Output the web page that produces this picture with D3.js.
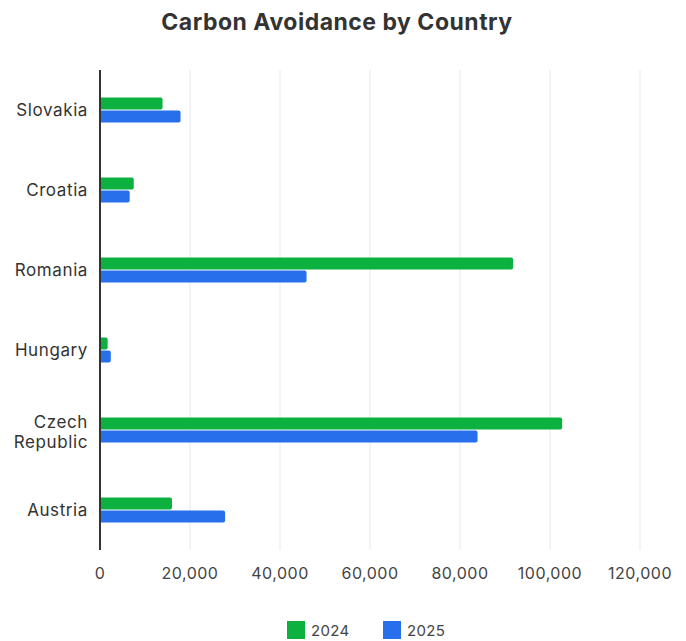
<!DOCTYPE html>
<html lang="en">
<head>
  <meta charset="UTF-8">
  <title>Carbon Avoidance by Country</title>
  <script src="https://d3js.org/d3.v7.min.js"></script>
  <style>
    body {
      margin: 0;
      background: #fff;
      font-family: Inter, 'Noto Sans', sans-serif;
    }
    svg { display: block; }
    .title { font-size: 23px; font-weight: 700; fill: #333; text-anchor: middle; letter-spacing: 0.5px; }
    .tick-label { font-size: 16px; fill: #444; letter-spacing: 0.5px; }
    .cat-label { font-size: 17px; fill: #333; letter-spacing: 0.6px; }
    .legend-text { font-size: 15px; fill: #444; letter-spacing: 0.3px; }
  </style>
</head>
<body>
<svg id="chart" width="686" height="641"></svg>
<script>
  const countries = ["Slovakia", "Croatia", "Romania", "Hungary", "Czech Republic", "Austria"];
  const seriesNames = ["2024", "2025"];
  const values2024 = [13900, 7500, 91800, 1700, 102700, 16000];
  const values2025 = [17900, 6600, 45900, 2400, 83900, 27800];
  const xTicks = [0, 20000, 40000, 60000, 80000, 100000, 120000];
  const colors = ["#0db140", "#2870eb"];

  const svg = d3.select("#chart");
  const margin = { left: 100, right: 46, top: 70, bottom: 91 };
  const width = 686, height = 641;

  const x = d3.scaleLinear().domain([0, 120000]).range([margin.left, width - margin.right]);
  const y = d3.scaleBand().domain(countries).range([margin.top, height - margin.bottom]);
  const inner = d3.scaleBand().domain(seriesNames).range([y.bandwidth() / 2 - 13, y.bandwidth() / 2 + 13]);

  svg.append("text").attr("class", "title").attr("x", 337).attr("y", 30).text("Carbon Avoidance by Country");

  // gridlines
  svg.append("g").selectAll("line").data(xTicks.slice(1)).join("line")
    .attr("x1", d => x(d)).attr("x2", d => x(d))
    .attr("y1", margin.top).attr("y2", height - margin.bottom)
    .attr("stroke", "#e3e8f0").attr("stroke-width", 1);

  // x axis tick labels
  svg.append("g").selectAll("text").data(xTicks).join("text")
    .attr("class", "tick-label")
    .attr("x", d => x(d)).attr("y", 579)
    .attr("text-anchor", "middle")
    .text(d => d3.format(",")(d));

  const data = countries.map((c, i) => ({ country: c, vals: [values2024[i], values2025[i]] }));

  const groups = svg.append("g").selectAll("g").data(data).join("g")
    .attr("transform", d => `translate(0,${y(d.country)})`);

  groups.selectAll("path").data(d => d.vals.map((v, i) => ({ v, i }))).join("path")
    .attr("d", d => {
      const x0 = x(0), x1 = x(d.v);
      const y0 = inner(seriesNames[d.i]) + 0.5, h = inner.bandwidth() - 1;
      const r = Math.min(2, (x1 - x0) / 2);
      return `M${x0},${y0}H${x1 - r}Q${x1},${y0} ${x1},${y0 + r}V${y0 + h - r}Q${x1},${y0 + h} ${x1 - r},${y0 + h}H${x0}Z`;
    })
    .attr("fill", d => colors[d.i]);

  // category labels
  const catLabels = svg.append("g").selectAll("text").data(countries).join("text")
    .attr("class", "cat-label")
    .attr("text-anchor", "end")
    .attr("x", 88)
    .attr("y", d => y(d) + y.bandwidth() / 2);
  catLabels.each(function (d) {
    const t = d3.select(this);
    if (d === "Czech Republic") {
      t.append("tspan").attr("x", 88).attr("dy", "-0.12em").text("Czech");
      t.append("tspan").attr("x", 88).attr("dy", "1.2em").text("Republic");
    } else {
      t.append("tspan").attr("dy", "0.35em").text(d);
    }
  });

  // y axis line
  svg.append("line")
    .attr("x1", x(0)).attr("x2", x(0))
    .attr("y1", margin.top).attr("y2", height - margin.bottom)
    .attr("stroke", "#333").attr("stroke-width", 2);

  // legend
  const legend = svg.append("g").selectAll("g").data(seriesNames).join("g")
    .attr("transform", (d, i) => `translate(${287 + i * 96},621)`);
  legend.append("rect").attr("width", 18).attr("height", 18).attr("fill", (d, i) => colors[i]);
  legend.append("text").attr("class", "legend-text").attr("x", 24).attr("y", 15).text(d => d);
</script>
</body>
</html>
